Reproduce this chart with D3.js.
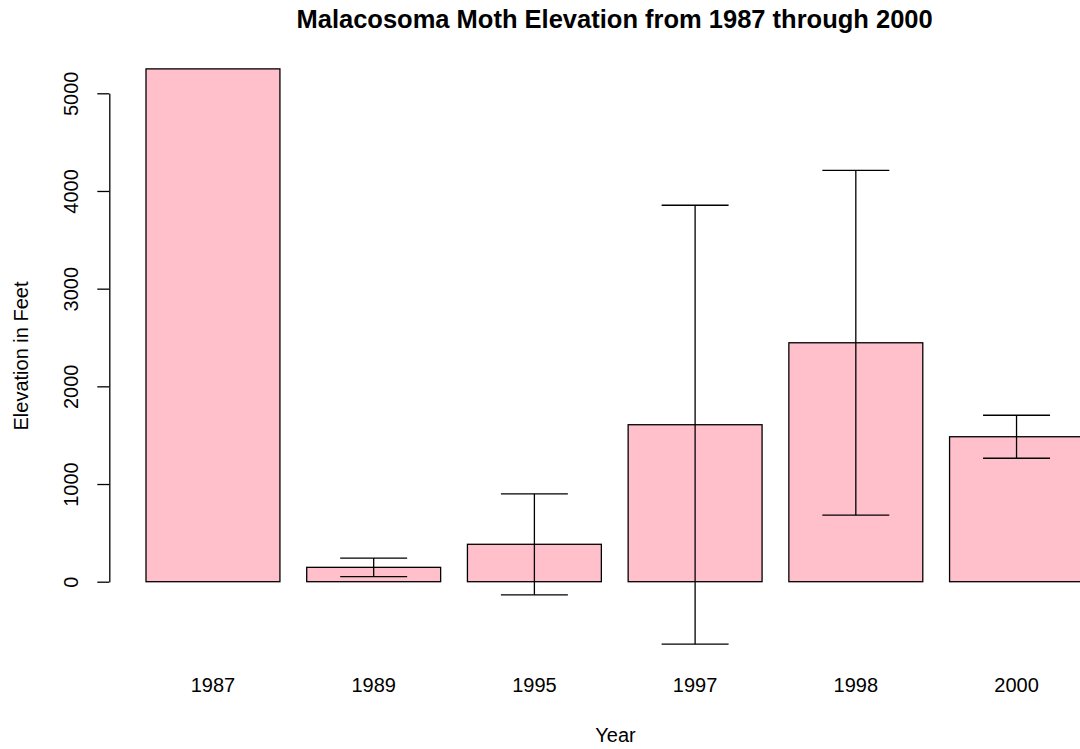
<!DOCTYPE html>
<html>
<head>
<meta charset="utf-8">
<script src="https://cdn.jsdelivr.net/npm/d3@7"></script>
<style>
    body { margin: 0; background: #fff; }
    text { font-family: "Liberation Sans", Arial, Helvetica, sans-serif; fill: #000; }
</style>
</head>
<body>
<svg id="chart" width="1080" height="749"></svg>
<script>
// elevation data per collection year
var years  = ["1987", "1989", "1995", "1997", "1998", "2000"]
var means  = [5250, 147, 383, 1607, 2446, 1484]
var errors = [null, 95, 517, 2247, 1765, 220]
var yTicks = [0, 1000, 2000, 3000, 4000, 5000]

var title  = "Malacosoma Moth Elevation from 1987 through 2000"
var xLabel = "Year"
var yLabel = "Elevation in Feet"

var svg = d3.select("#chart")

// barplot units: bar i spans [0.2 + 1.2i, 1.2 + 1.2i]
var barWidth = 1
var space    = 0.2
var xScale = d3.scaleLinear().domain([-0.08, 7.48]).range([108.5, 1121])
var yScale = d3.scaleLinear().domain([0, 5000]).range([581.7, 93.3])

var data = years.map(function(y, i) {
    return {year: y, mean: means[i], err: errors[i],
            left: space + i * (barWidth + space),
            mid: space + i * (barWidth + space) + barWidth / 2}
})

// bars
svg.append("g").selectAll("rect")
    .data(data)
    .enter()
        .append("rect")
        .attr("x", function(d){return xScale(d.left)})
        .attr("y", function(d){return yScale(d.mean)})
        .attr("width", function(d){return xScale(d.left + barWidth) - xScale(d.left)})
        .attr("height", function(d){return yScale(0) - yScale(d.mean)})
        .attr("fill", "#ffc0cb")
        .attr("stroke", "#000")
        .attr("stroke-width", 1.3)

// error bars
var withErr = data.filter(function(d){return d.err != null})
var eb = svg.append("g").attr("stroke", "#000").attr("stroke-width", 1.3)
eb.selectAll("line.v")
    .data(withErr)
    .enter()
        .append("line")
        .attr("class", "v")
        .attr("x1", function(d){return xScale(d.mid)})
        .attr("x2", function(d){return xScale(d.mid)})
        .attr("y1", function(d){return yScale(d.mean - d.err)})
        .attr("y2", function(d){return yScale(d.mean + d.err)})
eb.selectAll("line.top")
    .data(withErr)
    .enter()
        .append("line")
        .attr("class", "top")
        .attr("x1", function(d){return xScale(d.mid - 0.25)})
        .attr("x2", function(d){return xScale(d.mid + 0.25)})
        .attr("y1", function(d){return yScale(d.mean + d.err)})
        .attr("y2", function(d){return yScale(d.mean + d.err)})
eb.selectAll("line.bot")
    .data(withErr)
    .enter()
        .append("line")
        .attr("class", "bot")
        .attr("x1", function(d){return xScale(d.mid - 0.25)})
        .attr("x2", function(d){return xScale(d.mid + 0.25)})
        .attr("y1", function(d){return yScale(d.mean - d.err)})
        .attr("y2", function(d){return yScale(d.mean - d.err)})

// y axis (R style: rotated labels)
var yAxis = svg.append("g")
    .attr("transform", "translate(" + 109.3 + ",0)")
    .call(d3.axisLeft(yScale).tickValues(yTicks).tickSize(12).tickSizeOuter(0).tickFormat(d3.format("d")))
yAxis.select(".domain").attr("stroke", "#000").attr("stroke-width", 1.3)
yAxis.selectAll(".tick line").attr("stroke", "#000").attr("stroke-width", 1.3)
yAxis.selectAll(".tick text")
    .attr("x", 0).attr("y", 0).attr("dy", null)
    .attr("transform", "translate(-38,0) rotate(-90)")
    .attr("text-anchor", "middle")
    .attr("dominant-baseline", "central")
    .style("font-size", "20px")
    .style("font-family", "'Liberation Sans', Arial, sans-serif")

// category labels under bars
svg.append("g").selectAll("text")
    .data(data)
    .enter()
        .append("text")
        .attr("x", function(d){return xScale(d.mid)})
        .attr("y", 692)
        .attr("text-anchor", "middle")
        .style("font-size", "20px")
        .text(function(d){return d.year})

// titles
svg.append("text")
    .attr("x", 614.6).attr("y", 28)
    .attr("text-anchor", "middle")
    .style("font-size", "25.5px")
    .style("font-weight", "bold")
    .text(title)

svg.append("text")
    .attr("x", 615.5).attr("y", 742)
    .attr("text-anchor", "middle")
    .style("font-size", "20px")
    .text(xLabel)

svg.append("text")
    .attr("transform", "translate(28,356) rotate(-90)")
    .attr("text-anchor", "middle")
    .style("font-size", "20px")
    .text(yLabel)
</script>
</body>
</html>
